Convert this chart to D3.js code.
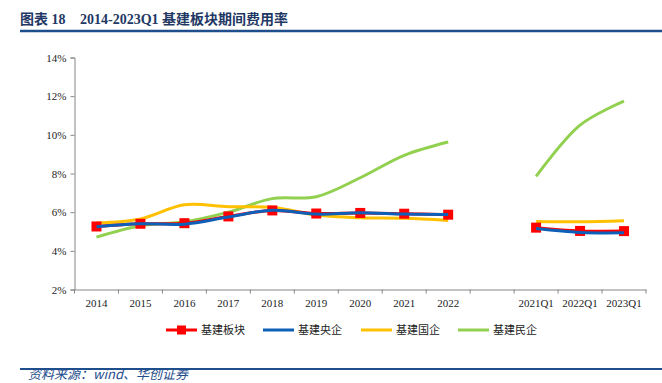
<!DOCTYPE html>
<html><head><meta charset="utf-8">
<script src="https://cdn.jsdelivr.net/npm/d3@7/dist/d3.min.js"></script>
<style>
body{margin:0;background:#fff;}
svg{display:block;}
</style></head>
<body>
<svg id="c" width="662" height="383"></svg>
<script>
const categories = ["2014","2015","2016","2017","2018","2019","2020","2021","2022","","2021Q1","2022Q1","2023Q1"];
const seriesNames = ["基建板块","基建央企","基建国企","基建民企"];
const sector  = [5.26,5.40,5.43,5.78,6.09,5.93,5.96,5.92,5.87,null,5.20,5.03,5.02];
const central = [5.25,5.40,5.38,5.75,6.10,5.90,5.97,5.90,5.88,null,5.15,4.95,4.93];
const state   = [5.44,5.65,6.38,6.28,6.25,5.85,5.71,5.68,5.57,null,5.52,5.50,5.56];
const privateE= [4.71,5.30,5.50,6.00,6.70,6.80,7.78,8.94,9.63,null,7.85,10.50,11.74];
const yTicks = [2,4,6,8,10,12,14];
const colors = ["#FF0000","#0E5FB8","#FFC000","#92D050"];
const titleLabel = "图表 18";
const titleText = "2014-2023Q1 基建板块期间费用率";
const source = "资料来源：wind、华创证券";

const svg = d3.select("#c");
const mLeft = 74.5, mRight = 646, mTop = 57.5, mBottom = 289.5;

const x = d3.scaleBand().domain(categories.map((c,i)=>i)).range([mLeft,mRight]).paddingInner(0).paddingOuter(0);
const y = d3.scaleLinear().domain([2,14]).range([mBottom,mTop]);

// title
const tt = svg.append("text").attr("y",24).attr("font-family","'Liberation Serif','Noto Sans CJK SC',serif")
  .attr("font-weight","bold").attr("font-size",14).attr("fill","#1F3864");
tt.append("tspan").attr("x",20).text(titleLabel);
tt.append("tspan").attr("x",80).text(titleText);
svg.append("line").attr("x1",20).attr("x2",662).attr("y1",31).attr("y2",31).attr("stroke","#1F4E8C").attr("stroke-width",2.5);

// axes
const yAxis = d3.axisLeft(y).tickValues(yTicks).tickFormat(d=>d+"%").tickSize(4).tickPadding(4);
const gy = svg.append("g").attr("transform",`translate(${mLeft},0)`).call(yAxis);
const xAxis = d3.axisBottom(x).tickFormat(i=>categories[i]).tickSize(0).tickPadding(10);
const gx = svg.append("g").attr("transform",`translate(0,${mBottom})`).call(xAxis);
const bounds = d3.range(categories.length+1).map(i=>mLeft + i*x.bandwidth());
svg.append("g").selectAll("line").data(bounds).join("line")
  .attr("x1",d=>d).attr("x2",d=>d).attr("y1",mBottom).attr("y2",mBottom+4).attr("stroke","#868686");
[gx,gy].forEach(g=>{
  g.selectAll("path.domain").attr("stroke","#868686");
  g.selectAll(".tick line").attr("stroke","#868686");
  g.selectAll("text").attr("font-family","'Liberation Serif',serif").attr("font-size",11).attr("fill","#222");
});

const cx = i => x(i)+x.bandwidth()/2;
const seriesData = [sector,central,state,privateE];
const line = d3.line().defined(d=>d.v!=null).x(d=>cx(d.i)).y(d=>y(d.v)).curve(d3.curveCatmullRom.alpha(0.5));
[3,2,0,1].forEach(s=>{
  const pts = seriesData[s].map((v,i)=>({i,v}));
  svg.append("path").datum(pts).attr("d",line).attr("fill","none")
    .attr("stroke",colors[s]).attr("stroke-width",3);
  if(s===0){
    svg.append("g").selectAll("rect").data(pts.filter(d=>d.v!=null)).join("rect")
      .attr("x",d=>cx(d.i)-5).attr("y",d=>y(d.v)-5).attr("width",10).attr("height",10).attr("fill",colors[0]);
  }
});

// legend
const legX = [166,263,361,458];
seriesNames.forEach((n,k)=>{
  const g = svg.append("g");
  g.append("line").attr("x1",legX[k]).attr("x2",legX[k]+31).attr("y1",330).attr("y2",330).attr("stroke",colors[k]).attr("stroke-width",3);
  if(k===0) g.append("rect").attr("x",legX[k]+11).attr("y",325.5).attr("width",9).attr("height",9).attr("fill",colors[0]);
  g.append("text").attr("x",legX[k]+35).attr("y",334).attr("font-family","'Noto Sans CJK SC',sans-serif")
    .attr("font-size",11).attr("fill","#222").text(n);
});

// footer
svg.append("line").attr("x1",20).attr("x2",662).attr("y1",369).attr("y2",369).attr("stroke","#1F4E8C").attr("stroke-width",2);
svg.append("text").attr("x",28).attr("y",379).attr("font-family","'Noto Sans CJK SC',serif").attr("font-style","italic")
  .attr("font-size",13).attr("fill","#1F4E8C").text(source);
</script>
</body></html>
